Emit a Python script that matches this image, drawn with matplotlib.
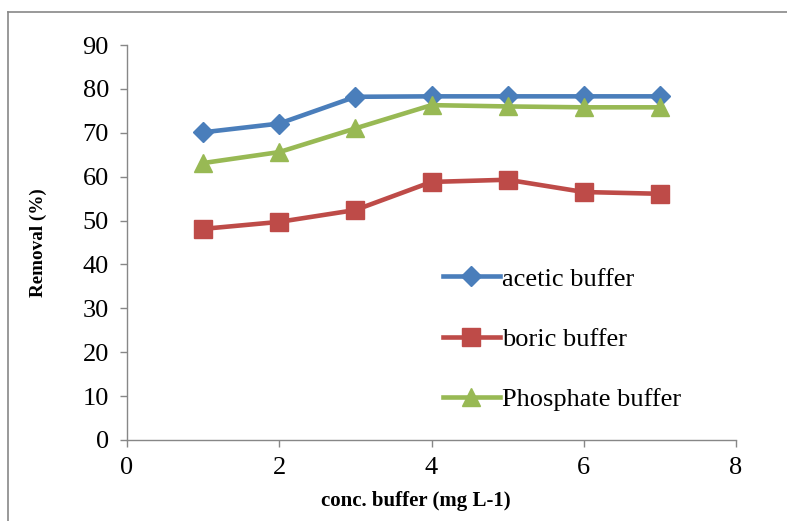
import matplotlib
matplotlib.use("Agg")
import matplotlib.pyplot as plt
from matplotlib.lines import Line2D

x = [1, 2, 3, 4, 5, 6, 7]
acetic = [70.1, 72.1, 78.2, 78.3, 78.3, 78.3, 78.3]
boric = [48.1, 49.7, 52.4, 58.8, 59.3, 56.5, 56.1]
phosphate = [63.1, 65.6, 71.0, 76.3, 76.0, 75.8, 75.8]

plt.rcParams['font.family'] = ['Liberation Serif', 'DejaVu Serif']

fig = plt.figure(figsize=(7.87, 5.21), dpi=100)
ax = fig.add_axes([127/787, 81/521, (736-127)/787, (440-45)/521])

ax.plot(x, acetic, color='#4a7ebb', lw=3.3, marker='D', ms=10.5, label='acetic buffer')
ax.plot(x, boric, color='#be4b48', lw=3.3, marker='s', ms=13, label='boric buffer')
ax.plot(x, phosphate, color='#98b954', lw=3.3, marker='^', ms=13, label='Phosphate buffer')

ax.set_xlim(0, 8)
ax.set_ylim(0, 90)
ax.set_xticks([0, 2, 4, 6, 8])
ax.set_yticks(range(0, 91, 10))
for s in ['top', 'right']:
    ax.spines[s].set_visible(False)
for s in ['left', 'bottom']:
    ax.spines[s].set_color('#878787')
    ax.spines[s].set_linewidth(1.0)
ax.tick_params(axis='both', colors='#878787', labelcolor='black', labelsize=19, length=5, width=1.0)
ax.tick_params(axis='x', pad=7)
ax.tick_params(axis='y', pad=8)

ax.set_xlabel('conc. buffer (mg L-1)', fontsize=15, fontweight='bold')
ax.set_ylabel('Removal (%)', fontsize=13.8, fontweight='bold')
ax.xaxis.set_label_coords((416-127)/609, (440-501)/395)
ax.yaxis.set_label_coords((38-127)/609, (440-243)/395)
ax.xaxis.label.set_va('center')
ax.yaxis.label.set_va('center')

leg = ax.legend(loc='center left', bbox_to_anchor=((443-127)/609, (440-339)/395), frameon=False,
                fontsize=19, handlelength=2.15, handletextpad=0.1, labelspacing=1.39,
                borderaxespad=0, borderpad=0)

fig.add_artist(Line2D([8/787, 8/787], [0, 1-12/521], transform=fig.transFigure, color='#878787', lw=1.2))
fig.add_artist(Line2D([8/787, 1], [1-12/521, 1-12/521], transform=fig.transFigure, color='#878787', lw=1.2))

fig.savefig('out.png', dpi=100)
